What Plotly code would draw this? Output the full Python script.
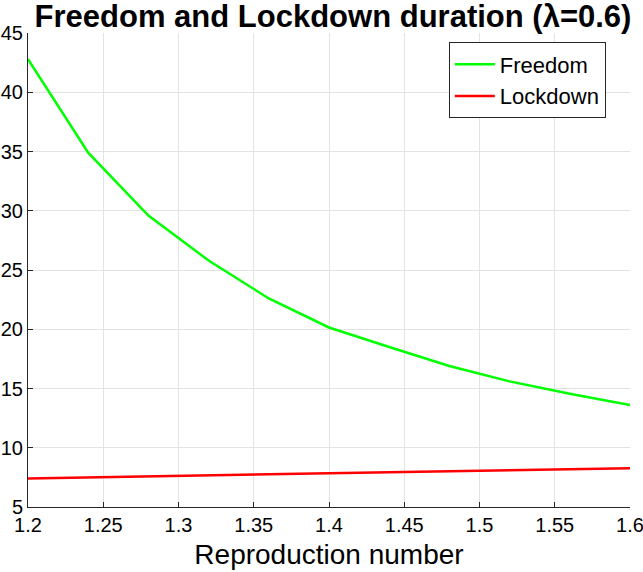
import plotly.graph_objects as go

# ---------------- data ----------------
reproduction = [1.2, 1.24, 1.28, 1.32, 1.36, 1.4, 1.44, 1.48, 1.52, 1.56, 1.6]
freedom = [42.8, 34.9, 29.6, 25.8, 22.6, 20.15, 18.5, 16.9, 15.6, 14.55, 13.6]
lockdown = [7.40, 7.50, 7.60, 7.69, 7.78, 7.86, 7.94, 8.02, 8.10, 8.18, 8.28]

x_ticks = [1.2, 1.25, 1.3, 1.35, 1.4, 1.45, 1.5, 1.55, 1.6]
x_labels = ["1.2", "1.25", "1.3", "1.35", "1.4", "1.45", "1.5", "1.55", "1.6"]
y_ticks = [5, 10, 15, 20, 25, 30, 35, 40, 45]

FONT = "Liberation Sans, Arial, Helvetica, sans-serif"
AXIS_COLOR = "#262626"
GRID_COLOR = "#e3e3e3"

fig = go.Figure()
fig.add_trace(go.Scatter(x=reproduction, y=freedom, mode="lines", name="Freedom",
                         line=dict(color="#00ff00", width=2.5)))
fig.add_trace(go.Scatter(x=reproduction, y=lockdown, mode="lines", name="Lockdown",
                         line=dict(color="#ff0000", width=2.5)))

fig.update_layout(
    width=643,
    height=572,
    margin=dict(l=28, r=13, t=33, b=65, autoexpand=False),
    paper_bgcolor="white",
    plot_bgcolor="white",
    font=dict(family=FONT, size=20, color="black"),
    title=dict(
        text="<b>Freedom and Lockdown duration (λ=0.6)</b>",
        x=333 / 643, xanchor="center", xref="container",
        y=1 - 16 / 572, yanchor="middle", yref="container",
        font=dict(family=FONT, size=31, color="black"),
    ),
    legend=dict(
        x=0.699, y=0.98, xanchor="left", yanchor="top",
        bgcolor="white", bordercolor="#262626", borderwidth=1,
        font=dict(family=FONT, size=22, color="black"),
        itemwidth=40,
        tracegroupgap=0,
    ),
    showlegend=True,
)

fig.update_xaxes(
    range=[1.2, 1.6],
    tickvals=x_ticks, ticktext=x_labels,
    ticks="inside", ticklen=5, tickcolor=AXIS_COLOR, tickwidth=1,
    showline=True, linecolor=AXIS_COLOR, linewidth=1,
    showgrid=True, gridcolor=GRID_COLOR, gridwidth=1,
    zeroline=False, automargin=False,
    ticklabeloverflow="allow",
    title=dict(text="Reproduction number", font=dict(family=FONT, size=28, color="black"), standoff=9),
    tickfont=dict(family=FONT, size=20, color="black"),
)
fig.update_yaxes(
    range=[5, 45],
    tickvals=y_ticks,
    ticks="inside", ticklen=5, tickcolor=AXIS_COLOR, tickwidth=1,
    showline=True, linecolor=AXIS_COLOR, linewidth=1,
    showgrid=True, gridcolor=GRID_COLOR, gridwidth=1,
    zeroline=False, automargin=False,
    ticklabeloverflow="allow",
    tickfont=dict(family=FONT, size=20, color="black"),
)

# the page's default body margin would shift the figure by 8px
fig.write_html("out.html", config={"displayModeBar": False},
               post_script="document.body.style.margin = '0';")
